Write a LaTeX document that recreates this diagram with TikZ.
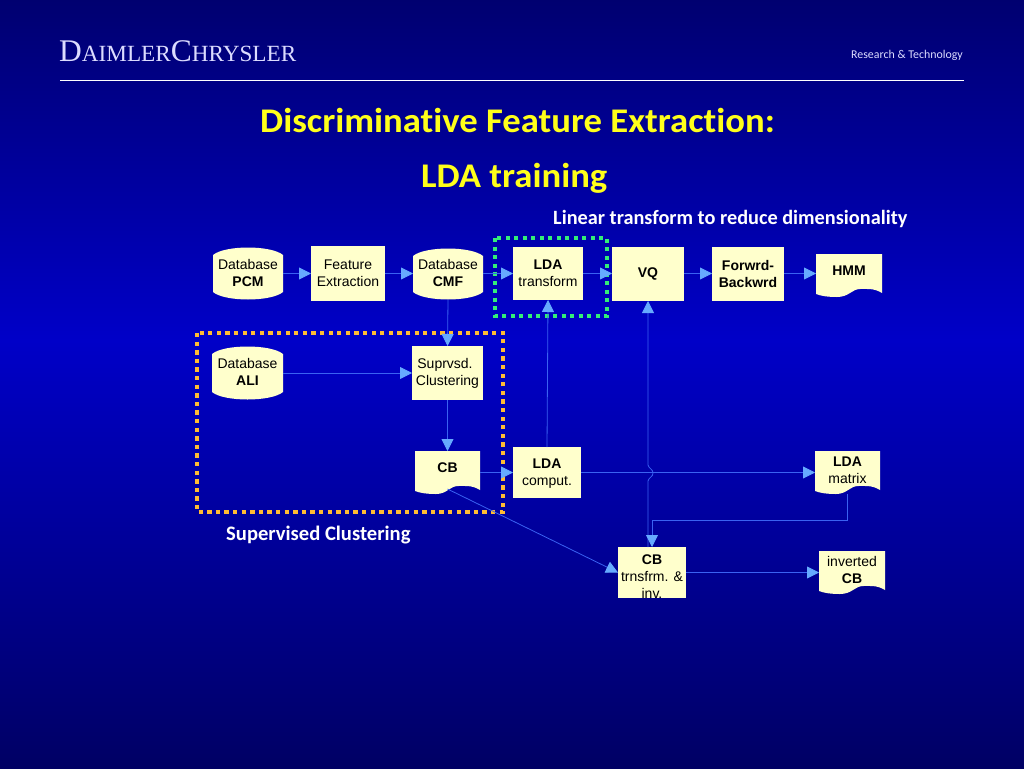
\documentclass[tikz,border=0pt]{standalone}
\usepackage{fontspec}
\setmainfont{Liberation Sans}
\newfontfamily\titlefont[Ligatures=NoCommon]{Carlito}
\newfontfamily\titlewide[Ligatures=NoCommon,FakeStretch=1.06,BoldFeatures={FakeStretch=1.06}]{Carlito}
\newfontfamily\logofont{Liberation Serif}
\usetikzlibrary{arrows.meta,calc}
\definecolor{bgdark}{HTML}{000070}
\definecolor{bgmid}{HTML}{0000C8}
\definecolor{bgend}{HTML}{000064}
\definecolor{cream}{HTML}{FFFFCC}
\definecolor{conn}{HTML}{3A62F2}
\definecolor{tipc}{HTML}{66AAFF}
\definecolor{dotgreen}{HTML}{33EE77}
\definecolor{dotorange}{HTML}{FFBB33}
\definecolor{titleyellow}{HTML}{FFFF1A}
\definecolor{headtext}{HTML}{DCDCFF}
\tikzset{
  x=1pt,y=-1pt,
  conline/.style={draw=conn,line width=0.8pt,-{Triangle[length=12pt,width=12pt,color=tipc,fill=tipc]}},
  boxnode/.style={fill=cream,inner sep=0pt,outer sep=0pt,text=black,font=\fontsize{14}{17}\selectfont,align=center},
  shapenode/.style={inner sep=0pt,outer sep=0pt,text=black,font=\fontsize{14}{17}\selectfont,align=center},
  frameg/.style={draw=dotgreen,line width=4pt,dash pattern=on 4pt off 4.5pt},
  frameo/.style={draw=dotorange,line width=4.3pt,dash pattern=on 4.3pt off 4.3pt},
  titletext/.style={text=titleyellow,font=\titlewide\bfseries\fontsize{34.6}{38}\selectfont,inner sep=0pt,anchor=base west},
  subtext/.style={text=white,font=\titlefont\bfseries\fontsize{20.3}{24}\selectfont,inner sep=0pt,anchor=base west},
}
\newcommand\lowpad[1]{\rule[-#1pt]{0pt}{#1pt}}
\newcommand\toppad[1]{\rule{0pt}{#1pt}}
% name, x0,y0,x1,y1, text
\newcommand\boxitem[6]{%
  \node[boxnode,minimum width=#4pt-#2pt,minimum height=#5pt-#3pt] (#1) at ({(#2+#4)/2},{(#3+#5)/2}) {#6};}
\newcommand\dbitem[6]{%
  \fill[cream] (#2,#3+8) .. controls (#2+12,#3-2) and (#4-12,#3-2) .. (#4,#3+8)
     -- (#4,#5-8) .. controls (#4-12,#5+2) and (#2+12,#5+2) .. (#2,#5-8) -- cycle;
  \node[shapenode,minimum width=#4pt-#2pt,minimum height=#5pt-#3pt] (#1) at ({(#2+#4)/2},{(#3+#5)/2}) {#6};}
\newcommand\docitem[6]{%
  \fill[cream] (#2,#3) -- (#4,#3) -- (#4,#5-4)
     .. controls (#4-8,#5-9) and (#4-15,#5-8) .. (#4-22,#5-8)
     .. controls (#4-30,#5-8) and (#4-33,#5) .. (#2+21,#5)
     .. controls (#2+12,#5) and (#2+5,#5-1) .. (#2,#5-3) -- cycle;
  \node[shapenode,minimum width=#4pt-#2pt,minimum height=#5pt-#3pt] (#1) at ({(#2+#4)/2},{(#3+#5)/2}) {#6};}
\begin{document}
\begin{tikzpicture}
\useasboundingbox (0,0) rectangle (1024,768);
\shade[top color=bgdark,bottom color=bgmid] (0,0) rectangle (1024,340.5);
\shade[top color=bgmid,bottom color=bgend] (0,340) rectangle (1024,768);

% header
\node[inner sep=0pt,anchor=base west,text=headtext,font=\logofont] (logo) at (59,62)
  {{\fontsize{31.5}{33}\selectfont D}{\fontsize{23.2}{33}\selectfont AIMLER}{\fontsize{31.5}{33}\selectfont C}{\fontsize{23.2}{33}\selectfont HRYSLER}};
\node[inner sep=0pt,anchor=base east,text=headtext,font=\titlefont\fontsize{11.9}{14}\selectfont] (rt) at (963,58.7) {Research \& Technology};
\coordinate (ruleL) at (60,80);
\coordinate (ruleR) at (964,80);
\draw[white,line width=1pt] (ruleL) -- (ruleR);

% titles
\node[titletext] (title1) at (260,132.7) {Discriminative Feature Extraction:};
\node[titletext] (title2) at (421,187.7) {LDA training};
\node[subtext] (sub1) at (553,224.3) {Linear transform to reduce dimensionality};
\node[subtext,font=\titlefont\bfseries\fontsize{20.6}{24}\selectfont] (sub2) at (226,540) {Supervised Clustering};

% dotted frames
\draw[frameg] (495,238) rectangle (607,316);
\draw[frameo] (197,333) rectangle (503,512);

% nodes
\dbitem{pcm}{213}{247}{283}{300}{Database\\\textbf{PCM}\lowpad{2}}
\boxitem{feat}{311}{246}{385}{301}{Feature\\Extraction}
\dbitem{cmf}{413}{248}{483}{300}{Database\\\textbf{CMF}\lowpad{2}}
\boxitem{ldat}{513}{247}{583}{300}{\textbf{LDA}\\transform}
\boxitem{vq}{612}{247}{684}{301}{\textbf{VQ}}
\boxitem{fb}{712}{247}{784}{301}{\textbf{Forwrd-}\\\textbf{Backwrd}}
\docitem{hmm}{816}{254}{882}{297}{\textbf{HMM}\lowpad{10}}
\dbitem{ali}{212}{346}{283}{400}{Database\\\textbf{ALI}\lowpad{2}}
\boxitem{sup}{412}{346}{483}{400}{Suprvsd.\kern5pt\\Clustering}
\docitem{cb}{415}{451}{480}{494}{\textbf{CB}\lowpad{10}}
\boxitem{ldac}{513}{447}{581}{498}{\toppad{12}\textbf{LDA}\\comput.}
\docitem{ldam}{815}{451}{880}{494}{\textbf{LDA}\\matrix\lowpad{5}}
\boxitem{tr}{618}{547}{686}{598}{\toppad{17}\textbf{CB}\\trnsfrm. \&\\inv.}
\docitem{inv}{819}{551}{885}{594}{inverted\\\textbf{CB}\lowpad{5}}

% connectors
\draw[conline] (pcm.east) -- (feat.west |- pcm.east);
\draw[conline] (feat.east |- pcm.east) -- (cmf.west |- pcm.east);
\draw[conline] (cmf.east |- pcm.east) -- (ldat.west |- pcm.east);
\draw[conline] (ldat.east |- pcm.east) -- (vq.west |- pcm.east);
\draw[conline] (vq.east |- pcm.east) -- (fb.west |- pcm.east);
\draw[conline] (fb.east |- pcm.east) -- (hmm.west |- pcm.east);
\draw[conline] (cmf.south) -- (sup.north);
\draw[conline] (ali.east) -- (sup.west);
\draw[conline] (sup.south) -- (cb.north);
\draw[conline] (cb.east) -- (ldac.west |- cb.east);
\draw[conline] (ldac.north) -- (ldat.south);
\coordinate (bumplow) at (vq.south |- 0,481);
\coordinate (bumphigh) at (vq.south |- 0,465);
\coordinate (bumpmid) at ($(vq.south |- 0,473)+(5,0)$);
\draw[conline] (vq.south |- tr.north) -- (bumplow)
   .. controls ($(bumplow)+(1,-4)$) and ($(bumpmid)+(0,4)$) .. (bumpmid)
   .. controls ($(bumpmid)+(0,-4)$) and ($(bumphigh)+(1,4)$) .. (bumphigh)
   -- (vq.south);
\draw[conline] (ldac.east |- cb.east) -- (ldam.west |- cb.east);
\coordinate (elbowR) at ($(ldam.south)+(0,26)$);
\draw[conline] (ldam.south) -- (elbowR) -- (tr.north |- elbowR) -- (tr.north);
\coordinate (cbtail) at ($(cb.south)+(0,-5)$);
\draw[conline] (cbtail) -- (tr.west);
\draw[conline] (tr.east) -- (inv.west |- tr.east);
\end{tikzpicture}
\end{document}
